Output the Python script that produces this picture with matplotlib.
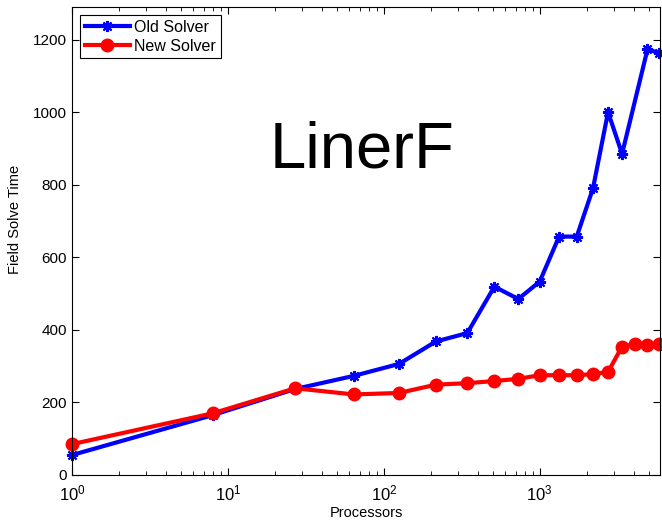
import matplotlib
matplotlib.use("Agg")
import matplotlib.pyplot as plt

procs_old = [1, 8, 27, 64, 125, 216, 343, 512, 729, 1000, 1331, 1728, 2197, 2744, 3375, 4913, 5832]
time_old = [55, 165, 237, 273, 306, 368, 391, 519, 485, 533, 657, 657, 790, 1000, 885, 1173, 1163]

procs_new = [1, 8, 27, 64, 125, 216, 343, 512, 729, 1000, 1331, 1728, 2197, 2744, 3375, 4096, 4913, 5832]
time_new = [85, 170, 239, 222, 226, 249, 253, 259, 265, 275, 275, 275, 278, 284, 354, 361, 357, 361]

plt.rcParams['font.family'] = ['Liberation Sans', 'DejaVu Sans']
plt.rcParams['mathtext.fontset'] = 'custom'
plt.rcParams['mathtext.rm'] = 'Liberation Sans'
plt.rcParams['mathtext.it'] = 'Liberation Sans:italic'
plt.rcParams['mathtext.default'] = 'regular'
plt.rcParams['xtick.direction'] = 'in'
plt.rcParams['ytick.direction'] = 'in'

fig = plt.figure(figsize=(6.62, 5.23), dpi=100)
ax = fig.add_axes([0.1088, 0.0918, 0.888, 0.895])

ax.plot(procs_old, time_old, 'b-', marker=(8, 2, 0), lw=3, ms=8, mew=1.5,
        label='Old Solver', clip_on=False)
ax.plot(procs_new, time_new, 'ro-', lw=3, ms=9, label='New Solver', clip_on=False)

ax.set_xscale('log')
ax.set_xlim(1, 5900)
ax.set_ylim(0, 1290)
ax.set_yticks(range(0, 1201, 200))
ax.tick_params(which='both', top=True, right=True, labelsize=11)
ax.tick_params(which='major', length=5)
ax.tick_params(which='minor', length=3)
ax.tick_params(axis='x', which='major', pad=6, labelsize=12)

ax.text(72, 893, 'LinerF', fontsize=47, ha='center', va='center')

ax.set_xlabel('Processors', fontsize=10.5, labelpad=2)
ax.set_ylabel('Field Solve Time', fontsize=10.5)
ax.yaxis.set_label_coords(-0.085, 0.545)

leg = ax.legend(loc='upper left', fontsize=11.5, fancybox=False, framealpha=1,
                edgecolor='k', borderpad=0.3, handlelength=2.8, labelspacing=0.25,
                borderaxespad=0.5, handletextpad=0.3)
leg.get_frame().set_linewidth(0.8)

fig.savefig('out.png', dpi=100)
